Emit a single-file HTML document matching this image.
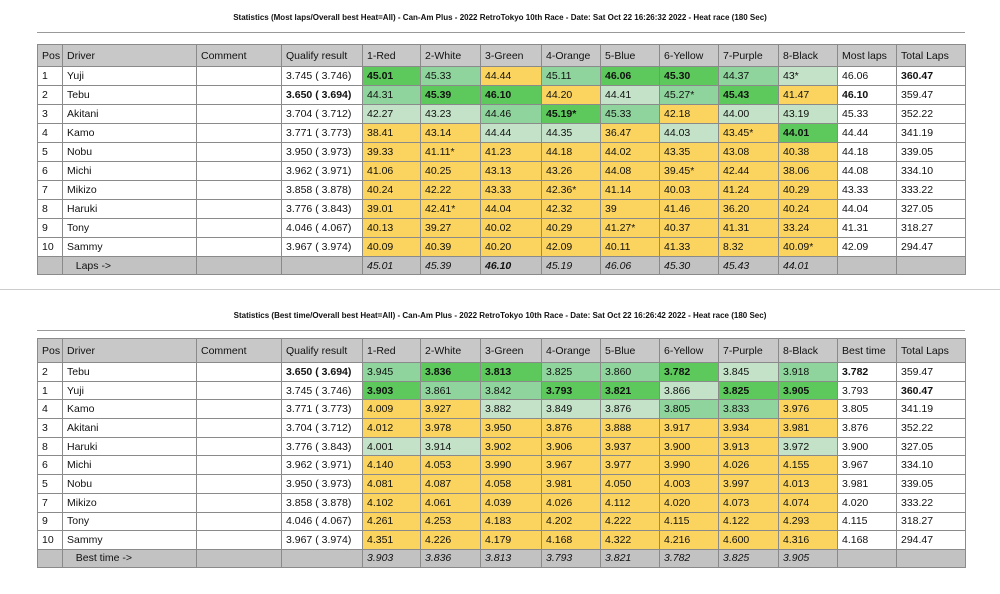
<!DOCTYPE html>
<html><head><meta charset="utf-8"><style>
body{margin:0;width:1000px;height:594px;background:#fff;font-family:"Liberation Sans",sans-serif;position:relative;overflow:hidden}
.title{position:absolute;left:0;width:1000px;text-align:center;font-size:8px;font-weight:bold;color:#111}
.hr{position:absolute;left:37px;width:928px;height:1px;background:#999}
table{position:absolute;left:37px;border-collapse:collapse;table-layout:fixed;width:928px;font-size:10.5px;color:#111}
td{border:1px solid #8a8a8a;padding:0 0 0 4px;white-space:nowrap;overflow:hidden}
tr.h td{height:21px;background:#c8c8c8}
tr.r td{height:18px}
tr.f td{height:17px;background:#c2c2c2;font-style:italic}
.t2 tr.r td{height:17.7px}
.t2 tr.h td{height:23px}
.d{background:#5dc95d;font-weight:bold}.m{background:#8fd49c}.l{background:#c3e2c7}.y{background:#fbd45f}
.b{font-weight:bold}
td.qo{background:#f7945f}td.rd{background:#f07080}td.wh{background:#fff}td.gr{background:#5fcf8e}td.or{background:#f68a58}td.bl{background:#5cc6ef}td.ye{background:#f8db22}td.pu{background:#dc6edc}
</style></head><body>
<div class="title" style="top:13px">Statistics (Most laps/Overall best Heat=All) - Can-Am Plus - 2022 RetroTokyo 10th Race - Date: Sat Oct 22 16:26:32 2022 - Heat race (180 Sec)</div>
<div class="hr" style="top:32px"></div>
<table style="top:44px">
<colgroup><col style="width:25px"><col style="width:134px"><col style="width:85px"><col style="width:81px"><col style="width:58px"><col style="width:60px"><col style="width:61px"><col style="width:59px"><col style="width:59px"><col style="width:59px"><col style="width:60px"><col style="width:59px"><col style="width:59px"><col style="width:69px"></colgroup>
<tr class="h"><td>Pos</td><td>Driver</td><td>Comment</td><td class="qo">Qualify result</td><td class="rd">1-Red</td><td class="wh">2-White</td><td class="gr">3-Green</td><td class="or">4-Orange</td><td class="bl">5-Blue</td><td class="ye">6-Yellow</td><td class="pu">7-Purple</td><td>8-Black</td><td>Most laps</td><td>Total Laps</td></tr>
<tr class="r"><td>1</td><td>Yuji</td><td></td><td>3.745 ( 3.746)</td><td class="d">45.01</td><td class="m">45.33</td><td class="y">44.44</td><td class="m">45.11</td><td class="d">46.06</td><td class="d">45.30</td><td class="m">44.37</td><td class="l">43*</td><td>46.06</td><td class="b">360.47</td></tr>
<tr class="r"><td>2</td><td>Tebu</td><td></td><td class="b">3.650 ( 3.694)</td><td class="m">44.31</td><td class="d">45.39</td><td class="d">46.10</td><td class="y">44.20</td><td class="l">44.41</td><td class="m">45.27*</td><td class="d">45.43</td><td class="y">41.47</td><td class="b">46.10</td><td>359.47</td></tr>
<tr class="r"><td>3</td><td>Akitani</td><td></td><td>3.704 ( 3.712)</td><td class="l">42.27</td><td class="l">43.23</td><td class="m">44.46</td><td class="d">45.19*</td><td class="m">45.33</td><td class="y">42.18</td><td class="l">44.00</td><td class="l">43.19</td><td>45.33</td><td>352.22</td></tr>
<tr class="r"><td>4</td><td>Kamo</td><td></td><td>3.771 ( 3.773)</td><td class="y">38.41</td><td class="y">43.14</td><td class="l">44.44</td><td class="l">44.35</td><td class="y">36.47</td><td class="l">44.03</td><td class="y">43.45*</td><td class="d">44.01</td><td>44.44</td><td>341.19</td></tr>
<tr class="r"><td>5</td><td>Nobu</td><td></td><td>3.950 ( 3.973)</td><td class="y">39.33</td><td class="y">41.11*</td><td class="y">41.23</td><td class="y">44.18</td><td class="y">44.02</td><td class="y">43.35</td><td class="y">43.08</td><td class="y">40.38</td><td>44.18</td><td>339.05</td></tr>
<tr class="r"><td>6</td><td>Michi</td><td></td><td>3.962 ( 3.971)</td><td class="y">41.06</td><td class="y">40.25</td><td class="y">43.13</td><td class="y">43.26</td><td class="y">44.08</td><td class="y">39.45*</td><td class="y">42.44</td><td class="y">38.06</td><td>44.08</td><td>334.10</td></tr>
<tr class="r"><td>7</td><td>Mikizo</td><td></td><td>3.858 ( 3.878)</td><td class="y">40.24</td><td class="y">42.22</td><td class="y">43.33</td><td class="y">42.36*</td><td class="y">41.14</td><td class="y">40.03</td><td class="y">41.24</td><td class="y">40.29</td><td>43.33</td><td>333.22</td></tr>
<tr class="r"><td>8</td><td>Haruki</td><td></td><td>3.776 ( 3.843)</td><td class="y">39.01</td><td class="y">42.41*</td><td class="y">44.04</td><td class="y">42.32</td><td class="y">39</td><td class="y">41.46</td><td class="y">36.20</td><td class="y">40.24</td><td>44.04</td><td>327.05</td></tr>
<tr class="r"><td>9</td><td>Tony</td><td></td><td>4.046 ( 4.067)</td><td class="y">40.13</td><td class="y">39.27</td><td class="y">40.02</td><td class="y">40.29</td><td class="y">41.27*</td><td class="y">40.37</td><td class="y">41.31</td><td class="y">33.24</td><td>41.31</td><td>318.27</td></tr>
<tr class="r"><td>10</td><td>Sammy</td><td></td><td>3.967 ( 3.974)</td><td class="y">40.09</td><td class="y">40.39</td><td class="y">40.20</td><td class="y">42.09</td><td class="y">40.11</td><td class="y">41.33</td><td class="y">8.32</td><td class="y">40.09*</td><td>42.09</td><td>294.47</td></tr>
<tr class="f"><td></td><td style="font-style:normal">&nbsp;&nbsp;&nbsp;Laps -&gt;</td><td></td><td></td><td>45.01</td><td>45.39</td><td class="b">46.10</td><td>45.19</td><td>46.06</td><td>45.30</td><td>45.43</td><td>44.01</td><td></td><td></td></tr>
</table>
<div class="hr" style="top:289px;left:0;width:1000px;background:#ccc"></div>
<div class="title" style="top:311px">Statistics (Best time/Overall best Heat=All) - Can-Am Plus - 2022 RetroTokyo 10th Race - Date: Sat Oct 22 16:26:42 2022 - Heat race (180 Sec)</div>
<div class="hr" style="top:330px"></div>
<table class="t2" style="top:338px">
<colgroup><col style="width:25px"><col style="width:134px"><col style="width:85px"><col style="width:81px"><col style="width:58px"><col style="width:60px"><col style="width:61px"><col style="width:59px"><col style="width:59px"><col style="width:59px"><col style="width:60px"><col style="width:59px"><col style="width:59px"><col style="width:69px"></colgroup>
<tr class="h"><td>Pos</td><td>Driver</td><td>Comment</td><td class="qo">Qualify result</td><td class="rd">1-Red</td><td class="wh">2-White</td><td class="gr">3-Green</td><td class="or">4-Orange</td><td class="bl">5-Blue</td><td class="ye">6-Yellow</td><td class="pu">7-Purple</td><td>8-Black</td><td>Best time</td><td>Total Laps</td></tr>
<tr class="r"><td>2</td><td>Tebu</td><td></td><td class="b">3.650 ( 3.694)</td><td class="m">3.945</td><td class="d">3.836</td><td class="d">3.813</td><td class="m">3.825</td><td class="m">3.860</td><td class="d">3.782</td><td class="l">3.845</td><td class="m">3.918</td><td class="b">3.782</td><td>359.47</td></tr>
<tr class="r"><td>1</td><td>Yuji</td><td></td><td>3.745 ( 3.746)</td><td class="d">3.903</td><td class="m">3.861</td><td class="m">3.842</td><td class="d">3.793</td><td class="d">3.821</td><td class="l">3.866</td><td class="d">3.825</td><td class="d">3.905</td><td>3.793</td><td class="b">360.47</td></tr>
<tr class="r"><td>4</td><td>Kamo</td><td></td><td>3.771 ( 3.773)</td><td class="y">4.009</td><td class="y">3.927</td><td class="l">3.882</td><td class="l">3.849</td><td class="l">3.876</td><td class="m">3.805</td><td class="m">3.833</td><td class="y">3.976</td><td>3.805</td><td>341.19</td></tr>
<tr class="r"><td>3</td><td>Akitani</td><td></td><td>3.704 ( 3.712)</td><td class="y">4.012</td><td class="y">3.978</td><td class="y">3.950</td><td class="y">3.876</td><td class="y">3.888</td><td class="y">3.917</td><td class="y">3.934</td><td class="y">3.981</td><td>3.876</td><td>352.22</td></tr>
<tr class="r"><td>8</td><td>Haruki</td><td></td><td>3.776 ( 3.843)</td><td class="l">4.001</td><td class="l">3.914</td><td class="y">3.902</td><td class="y">3.906</td><td class="y">3.937</td><td class="y">3.900</td><td class="y">3.913</td><td class="l">3.972</td><td>3.900</td><td>327.05</td></tr>
<tr class="r"><td>6</td><td>Michi</td><td></td><td>3.962 ( 3.971)</td><td class="y">4.140</td><td class="y">4.053</td><td class="y">3.990</td><td class="y">3.967</td><td class="y">3.977</td><td class="y">3.990</td><td class="y">4.026</td><td class="y">4.155</td><td>3.967</td><td>334.10</td></tr>
<tr class="r"><td>5</td><td>Nobu</td><td></td><td>3.950 ( 3.973)</td><td class="y">4.081</td><td class="y">4.087</td><td class="y">4.058</td><td class="y">3.981</td><td class="y">4.050</td><td class="y">4.003</td><td class="y">3.997</td><td class="y">4.013</td><td>3.981</td><td>339.05</td></tr>
<tr class="r"><td>7</td><td>Mikizo</td><td></td><td>3.858 ( 3.878)</td><td class="y">4.102</td><td class="y">4.061</td><td class="y">4.039</td><td class="y">4.026</td><td class="y">4.112</td><td class="y">4.020</td><td class="y">4.073</td><td class="y">4.074</td><td>4.020</td><td>333.22</td></tr>
<tr class="r"><td>9</td><td>Tony</td><td></td><td>4.046 ( 4.067)</td><td class="y">4.261</td><td class="y">4.253</td><td class="y">4.183</td><td class="y">4.202</td><td class="y">4.222</td><td class="y">4.115</td><td class="y">4.122</td><td class="y">4.293</td><td>4.115</td><td>318.27</td></tr>
<tr class="r"><td>10</td><td>Sammy</td><td></td><td>3.967 ( 3.974)</td><td class="y">4.351</td><td class="y">4.226</td><td class="y">4.179</td><td class="y">4.168</td><td class="y">4.322</td><td class="y">4.216</td><td class="y">4.600</td><td class="y">4.316</td><td>4.168</td><td>294.47</td></tr>
<tr class="f"><td></td><td style="font-style:normal">&nbsp;&nbsp;&nbsp;Best time -&gt;</td><td></td><td></td><td>3.903</td><td>3.836</td><td>3.813</td><td>3.793</td><td>3.821</td><td>3.782</td><td>3.825</td><td>3.905</td><td></td><td></td></tr>
</table>
</body></html>
